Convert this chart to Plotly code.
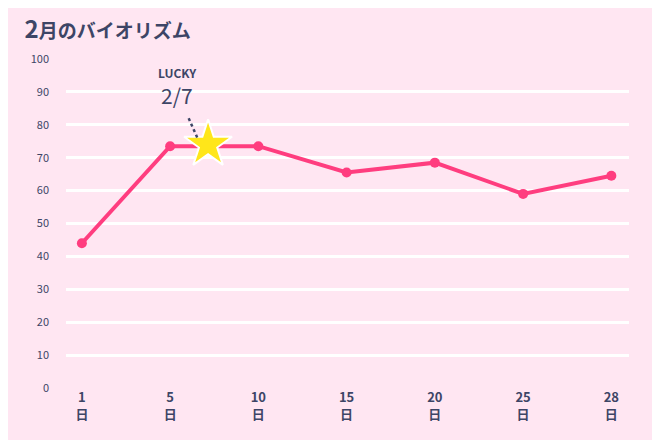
import plotly.graph_objects as go

days = ["1", "5", "10", "15", "20", "25", "28"]
values = [44, 73.5, 73.5, 65.5, 68.5, 59, 64.5]
lucky_pos = 1.43
lucky_value = 74

x = list(range(len(days)))
navy = "#3d4566"
pink = "#ff3d7f"

fig = go.Figure()
fig.add_trace(go.Scatter(x=x, y=values, mode="lines+markers",
                         line=dict(color=pink, width=4),
                         marker=dict(size=10, color=pink)))
fig.add_trace(go.Scatter(x=[lucky_pos], y=[lucky_value], mode="markers",
                         marker=dict(symbol="star", size=36, color="#ffe61a",
                                     line=dict(color="white", width=2))))
fig.add_trace(go.Scatter(x=[lucky_pos - 0.22, lucky_pos - 0.12], y=[82, 76], mode="lines",
                         line=dict(color=navy, width=2.5, dash="dot")))

fig.add_annotation(x=lucky_pos - 0.35, y=96, text="<b>LUCKY</b>", showarrow=False,
                   font=dict(size=12, color=navy))
fig.add_annotation(x=lucky_pos - 0.35, y=89, text="2/7", showarrow=False,
                   font=dict(size=21, color=navy))

fig.update_layout(
    width=660, height=440, showlegend=False,
    paper_bgcolor="#ffe6f2", plot_bgcolor="#ffe6f2",
    margin=dict(l=58, r=39, t=51, b=60),
    font=dict(family="Noto Sans CJK JP", color=navy),
    title=dict(text="<b><span style='font-size:24px'>2</span>月のバイオリズム</b>",
               x=0.025, y=0.962, xanchor="left", font=dict(size=19, color=navy)),
    xaxis=dict(tickvals=x, ticktext=[f"<b>{d}<br>日</b>" for d in days],
               range=[-0.18, 6.2], showgrid=False, zeroline=False,
               tickfont=dict(size=13, color=navy)),
    yaxis=dict(range=[0, 100], dtick=10, gridcolor="white", gridwidth=3,
               zeroline=False, ticklabelstandoff=16,
               tickfont=dict(size=11, color=navy)),
)
fig.write_html("out.html")
